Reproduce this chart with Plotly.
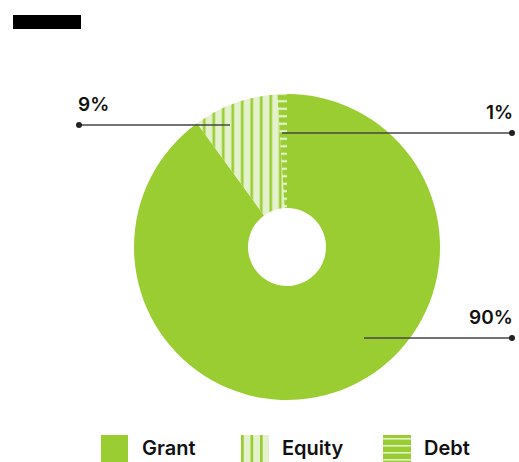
import plotly.graph_objects as go

# Funding mix
labels = ["Grant", "Equity", "Debt"]
values = [90, 9, 1]

GREEN = "#9ACD32"
LIGHT = "#E3F2CC"
INK = "#111111"
LINE = "#444444"
FONT = "Inter"

W, H = 519, 462


def px(x):
    return x / W


def py(y):
    return 1 - y / H


fig = go.Figure()

fig.add_trace(go.Pie(
    labels=labels,
    values=values,
    sort=False,
    direction="clockwise",
    rotation=0,
    hole=0.255,
    textinfo="none",
    hoverinfo="label+percent",
    showlegend=False,
    domain=dict(x=[px(134), px(440)], y=[py(400), py(94)]),
    marker=dict(
        colors=[GREEN, LIGHT, GREEN],
        line=dict(width=0),
        pattern=dict(
            shape=["", "|", "-"],
            fgcolor=[GREEN, GREEN, LIGHT],
            bgcolor=[GREEN, LIGHT, GREEN],
            size=[8, 9.5, 7.5],
            solidity=[0.3, 0.28, 0.3],
            fillmode="replace",
        ),
    ),
))

total = sum(values)
pct = {lab: f"{round(v / total * 100)}%" for lab, v in zip(labels, values)}

shapes = []
annotations = []

# Title block
shapes.append(dict(type="rect", xref="paper", yref="paper",
                   x0=px(13), x1=px(81), y0=py(29), y1=py(15),
                   fillcolor="#000000", line=dict(width=0), layer="above"))

# Leader lines with end dots and value labels
callouts = [
    # label, line x0, line x1, line y, dot x, text x, text y, anchor
    ("Equity", 79, 230, 125, 79, 76, 104, "left"),
    ("Debt", 282, 512, 133, 512, 515, 112, "right"),
    ("Grant", 364, 512, 338, 512, 515, 317, "right"),
]
for lab, x0, x1, y, dx, tx, ty, anchor in callouts:
    shapes.append(dict(type="line", xref="paper", yref="paper",
                       x0=px(x0), x1=px(x1), y0=py(y), y1=py(y),
                       line=dict(color=LINE, width=1.6), layer="above"))
    shapes.append(dict(type="circle", xref="paper", yref="paper",
                       x0=px(dx - 3), x1=px(dx + 3), y0=py(y + 3), y1=py(y - 3),
                       fillcolor="#222222", line=dict(width=0), layer="above"))
    annotations.append(dict(
        text=pct[lab], xref="paper", yref="paper",
        x=px(tx), y=py(ty), xanchor=anchor, yanchor="middle",
        showarrow=False,
        font=dict(family=FONT, size=19, color=INK, weight=600),
    ))

# Legend swatches
sw = 27
leg_y0, leg_y1 = 435, 462
legend_items = [("Grant", 101), ("Equity", 241), ("Debt", 383)]
for lab, x in legend_items:
    if lab == "Grant":
        shapes.append(dict(type="rect", xref="paper", yref="paper",
                           x0=px(x), x1=px(x + sw), y0=py(leg_y1), y1=py(leg_y0),
                           fillcolor=GREEN, line=dict(width=0)))
    elif lab == "Equity":
        shapes.append(dict(type="rect", xref="paper", yref="paper",
                           x0=px(x), x1=px(x + sw + 1), y0=py(leg_y1), y1=py(leg_y0),
                           fillcolor=LIGHT, line=dict(width=0)))
        for sx in (x, x + 9.5, x + 19):
            shapes.append(dict(type="rect", xref="paper", yref="paper",
                               x0=px(sx), x1=px(sx + 2.7), y0=py(leg_y1), y1=py(leg_y0),
                               fillcolor=GREEN, line=dict(width=0)))
    else:
        shapes.append(dict(type="rect", xref="paper", yref="paper",
                           x0=px(x), x1=px(x + sw + 1), y0=py(leg_y1), y1=py(leg_y0),
                           fillcolor=GREEN, line=dict(width=0)))
        for sy in (leg_y0 + 3, leg_y0 + 10, leg_y0 + 17, leg_y0 + 24):
            shapes.append(dict(type="rect", xref="paper", yref="paper",
                               x0=px(x), x1=px(x + sw + 1), y0=py(sy + 1.6), y1=py(sy),
                               fillcolor=LIGHT, line=dict(width=0)))
    annotations.append(dict(
        text=lab, xref="paper", yref="paper",
        x=px(x + sw + 12), y=py(448), xanchor="left", yanchor="middle",
        showarrow=False,
        font=dict(family=FONT, size=20, color=INK, weight=600),
    ))

fig.update_layout(
    width=W, height=H,
    margin=dict(l=0, r=0, t=0, b=0),
    paper_bgcolor="white",
    plot_bgcolor="white",
    shapes=shapes,
    annotations=annotations,
    font=dict(family=FONT),
)

fig.write_html("out.html")
